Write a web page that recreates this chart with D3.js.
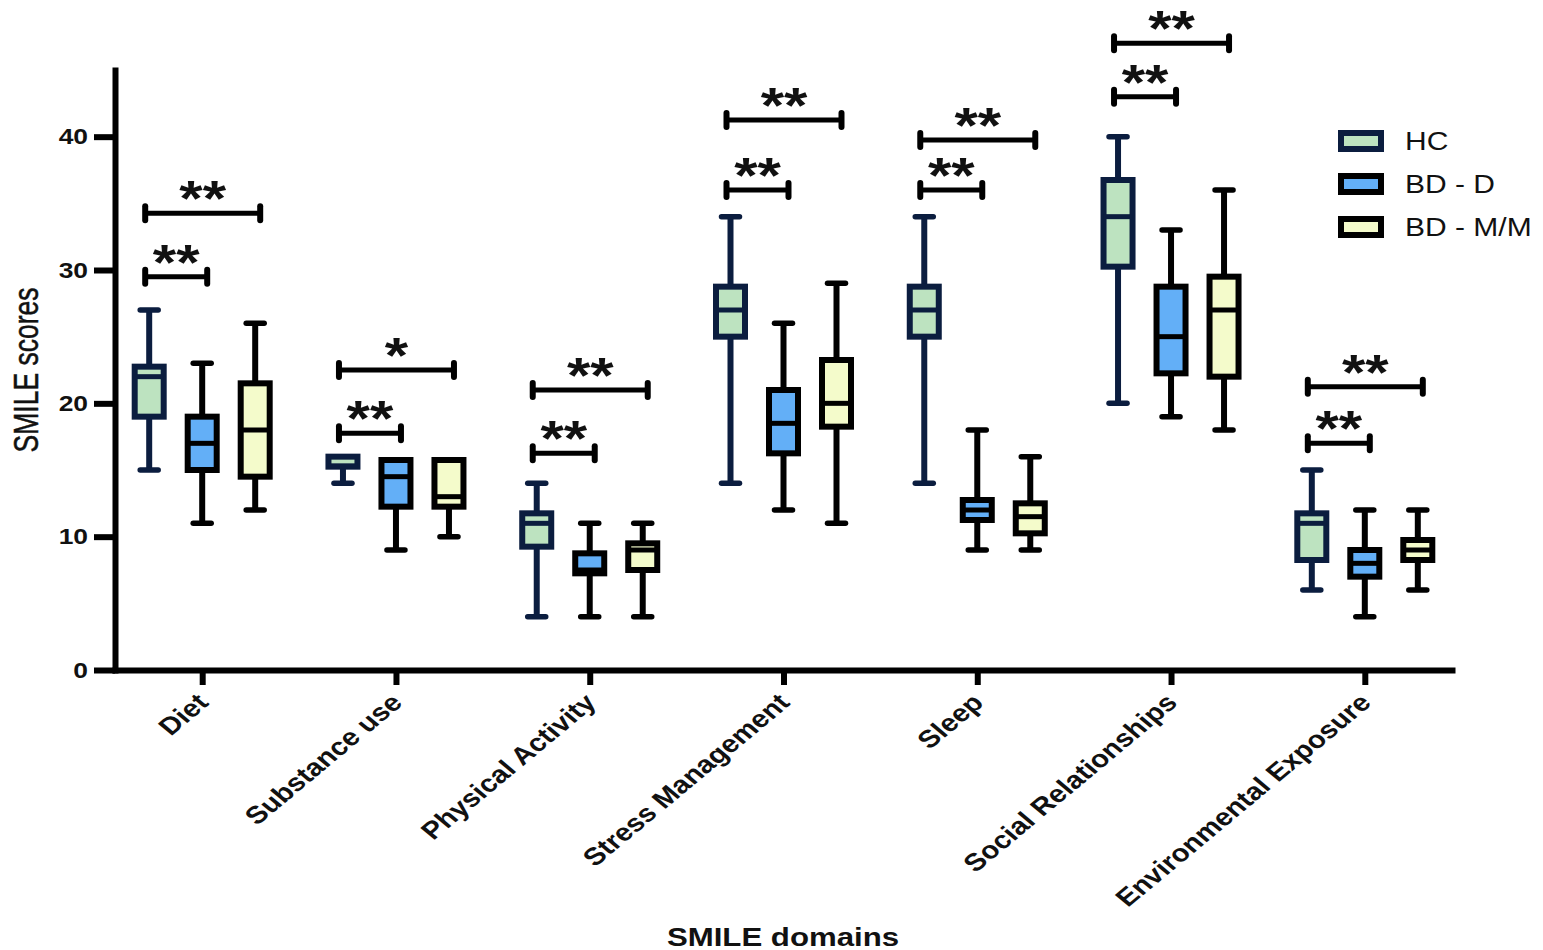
<!DOCTYPE html>
<html>
<head>
<meta charset="utf-8">
<script src="https://cdn.jsdelivr.net/npm/d3@7"></script>
<style>
  html, body { margin: 0; padding: 0; background: #fff; }
  svg { display: block; }
  text { font-family: "Liberation Sans", Arial, sans-serif; fill: #111; }
</style>
</head>
<body>
<svg id="chart" width="1543" height="950"></svg>
<script>
// SMILE domain scores per group: [min, Q1, median, Q3, max]
const categories = ["Diet", "Substance use", "Physical Activity", "Stress Management",
                    "Sleep", "Social Relationships", "Environmental Exposure"];
const groups = ["HC", "BD - D", "BD - M/M"];

const hcStats = [
  [15, 19, 22, 22.75, 27],
  [14, 15.25, 15.3, 16, 16],
  [4, 9.25, 11, 11.75, 14],
  [14, 25, 27, 28.75, 34],
  [14, 25, 27, 28.75, 34],
  [20, 30.25, 34, 36.75, 40],
  [6, 8.25, 11, 11.75, 15]
];
const bdDStats = [
  [11, 15, 17, 19, 23],
  [9, 12.25, 14.5, 15.75, 15.75],
  [4, 7.25, 7.5, 8.75, 11],
  [12, 16.25, 18.5, 21, 26],
  [9, 11.25, 12, 12.75, 18],
  [19, 22.25, 25, 28.75, 33],
  [4, 7, 8, 9, 12]
];
const bdMMStats = [
  [12, 14.5, 18, 21.5, 26],
  [10, 12.25, 13, 15.75, 15.75],
  [4, 7.5, 9, 9.5, 11],
  [11, 18.25, 20, 23.25, 29],
  [9, 10.25, 11.5, 12.5, 16],
  [18, 22, 27, 29.5, 36],
  [6, 8.25, 9, 9.75, 12]
];
const groupStats = [hcStats, bdDStats, bdMMStats];

// Significance brackets: [domain, from group, to group, height, label]
const brackets = [
  ["Diet", "HC", "BD - D", 29.5, "**"],
  ["Diet", "HC", "BD - M/M", 34.25, "**"],
  ["Substance use", "HC", "BD - D", 17.75, "**"],
  ["Substance use", "HC", "BD - M/M", 22.5, "*"],
  ["Physical Activity", "HC", "BD - D", 16.25, "**"],
  ["Physical Activity", "HC", "BD - M/M", 21, "**"],
  ["Stress Management", "HC", "BD - D", 36, "**"],
  ["Stress Management", "HC", "BD - M/M", 41.25, "**"],
  ["Sleep", "HC", "BD - D", 36, "**"],
  ["Sleep", "HC", "BD - M/M", 39.75, "**"],
  ["Social Relationships", "HC", "BD - D", 43, "**"],
  ["Social Relationships", "HC", "BD - M/M", 47, "**"],
  ["Environmental Exposure", "HC", "BD - D", 17, "**"],
  ["Environmental Exposure", "HC", "BD - M/M", 21.25, "**"]
];

const yTicks = [0, 10, 20, 30, 40];

const fills = ["#bde3c0", "#63aff7", "#f4fbcb"];
const strokes = ["#0b1d3f", "#000000", "#000000"];

const svg = d3.select("#chart");
const SX = 1.2; // horizontal text stretch

const x = d3.scalePoint().domain(categories).range([115, 1452]).padding(0.45);
const y = d3.scaleLinear().domain([0, 45]).range([670, 70]);
const off = d3.scalePoint().domain(groups).range([-53, 53]);

// Axes
const yAxis = svg.append("g").attr("transform", "translate(115,0)")
  .call(d3.axisLeft(y).tickValues(yTicks).tickSize(21).tickSizeOuter(0).tickPadding(6));
const xAxis = svg.append("g").attr("transform", "translate(0,670)")
  .call(d3.axisBottom(x).tickSize(15).tickSizeOuter(0));

[yAxis, xAxis].forEach(a => {
  a.select(".domain").attr("stroke", "#000").attr("stroke-width", 6).attr("stroke-linecap", "square");
  a.selectAll(".tick line").attr("stroke", "#000").attr("stroke-width", 6);
});

yAxis.selectAll(".tick text")
  .attr("font-size", 22).attr("font-weight", "bold").attr("fill", "#111")
  .each(function () {
    const t = d3.select(this);
    const tx = +t.attr("x");
    t.attr("x", 0).attr("transform", `translate(${tx},0) scale(${SX},1)`);
  });

xAxis.selectAll(".tick text")
  .attr("font-size", 24.5).attr("font-weight", "bold").attr("fill", "#111")
  .attr("text-anchor", "end")
  .attr("x", 0).attr("y", 0).attr("dy", "0.35em")
  .attr("transform", `translate(0,28) scale(${SX},1) rotate(-45)`);

// Axis titles
svg.append("text")
  .attr("transform", `translate(26,370) scale(1.3,1) rotate(-90)`)
  .attr("text-anchor", "middle").attr("dy", "0.35em")
  .attr("font-size", 26.5)
  .attr("stroke", "#111").attr("stroke-width", 0.4)
  .text("SMILE scores");

svg.append("text")
  .attr("transform", `translate(783,946) scale(${SX},1)`)
  .attr("text-anchor", "middle")
  .attr("font-size", 26).attr("font-weight", "bold")
  .text("SMILE domains");

// Box plots
const plot = svg.append("g");
groups.forEach((g, gi) => {
  const stats = groupStats[gi];
  const gg = plot.append("g");
  categories.forEach((c, ci) => {
    const [mn, q1, md, q3, mx] = stats[ci];
    const cx = x(c) + off(g);
    const col = strokes[gi];
    // whisker
    gg.append("line").attr("x1", cx).attr("x2", cx).attr("y1", y(mx)).attr("y2", y(mn))
      .attr("stroke", col).attr("stroke-width", 6);
    [mn, mx].forEach(v => {
      gg.append("line").attr("x1", cx - 9).attr("x2", cx + 9).attr("y1", y(v)).attr("y2", y(v))
        .attr("stroke", col).attr("stroke-width", 5.5).attr("stroke-linecap", "round");
    });
    // box
    gg.append("rect").attr("x", cx - 14.5).attr("width", 29)
      .attr("y", y(q3)).attr("height", y(q1) - y(q3))
      .attr("fill", fills[gi]).attr("stroke", col).attr("stroke-width", 6);
    // median
    gg.append("line").attr("x1", cx - 14.5).attr("x2", cx + 14.5).attr("y1", y(md)).attr("y2", y(md))
      .attr("stroke", col).attr("stroke-width", 5);
  });
});

// Significance brackets
const br = svg.append("g");
brackets.forEach(([c, g1, g2, v, label]) => {
  const x1 = x(c) + off(g1) - 4;
  const x2 = x(c) + off(g2) + 5;
  const yy = y(v);
  br.append("line").attr("x1", x1).attr("x2", x2).attr("y1", yy).attr("y2", yy)
    .attr("stroke", "#000").attr("stroke-width", 5);
  [x1, x2].forEach(xx => {
    br.append("line").attr("x1", xx).attr("x2", xx).attr("y1", yy - 7).attr("y2", yy + 7)
      .attr("stroke", "#000").attr("stroke-width", 6).attr("stroke-linecap", "round");
  });
  br.append("text")
    .attr("transform", `translate(${(x1 + x2) / 2},${yy + 3}) scale(${SX},1)`)
    .attr("text-anchor", "middle")
    .attr("font-size", 50).attr("font-weight", "bold").attr("fill", "#000")
    .text(label);
});

// Legend
const legend = svg.append("g");
groups.forEach((g, gi) => {
  const cy = 141 + gi * 43;
  legend.append("rect").attr("x", 1341).attr("y", cy - 8).attr("width", 40).attr("height", 16)
    .attr("fill", fills[gi]).attr("stroke", strokes[gi]).attr("stroke-width", 6);
  legend.append("text")
    .attr("transform", `translate(1405,${cy}) scale(${SX},1)`)
    .attr("dy", "0.36em").attr("font-size", 25)
    .text(g);
});
</script>
</body>
</html>
